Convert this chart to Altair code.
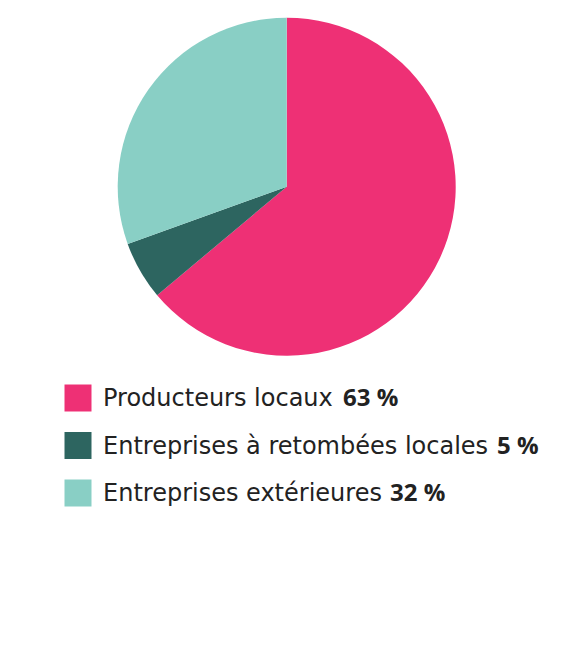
import altair as alt
import pandas as pd

categories = ["Producteurs locaux", "Entreprises à retombées locales", "Entreprises extérieures"]
values = [63.9, 5.6, 30.5]
pct_labels = ["63 %", "5 %", "32 %"]
colors = ["#EE3075", "#2D6560", "#89CFC5"]
order_idx = [0, 1, 2]

# layout (horizontal start of bold percentage per legend row, in chart px)
pct_x = [335, 489, 382]

df = pd.DataFrame({
    "cat": categories,
    "value": values,
    "pct": pct_labels,
    "idx": order_idx,
    "px": pct_x,
})

color_scale = alt.Scale(domain=categories, range=colors)

base = alt.Chart(df)

pie = base.mark_arc(radius=169, strokeWidth=0).encode(
    theta=alt.Theta("value:Q", stack=True),
    color=alt.Color("cat:N", scale=color_scale, legend=None),
    order=alt.Order("idx:Q"),
    x=alt.value(278.7),
    y=alt.value(178.7),
)

ypos = alt.Y("idx:O", axis=None,
             scale=alt.Scale(type="point", range=[390, 485], padding=0))

squares = base.mark_square(size=729, opacity=1).encode(
    x=alt.value(70),
    y=ypos,
    color=alt.Color("cat:N", scale=color_scale, legend=None),
)

labels = base.mark_text(align="left", baseline="middle", font="DejaVu Sans", fontSize=24,
                        color="#222222", dy=1).encode(
    x=alt.value(95),
    y=ypos,
    text="cat:N",
)

pcts = base.mark_text(align="left", baseline="middle", font="Open Sans", fontSize=24,
                      fontWeight="bold", color="#222222", dy=1).encode(
    x=alt.X("px:Q", scale=None),
    y=ypos,
    text="pct:N",
)

chart = alt.layer(pie, squares, labels, pcts).properties(
    width=553, height=642, autosize="none", padding=0
).configure_view(stroke=None)

chart.save("out.html", embed_options={"renderer": "svg", "actions": False})
